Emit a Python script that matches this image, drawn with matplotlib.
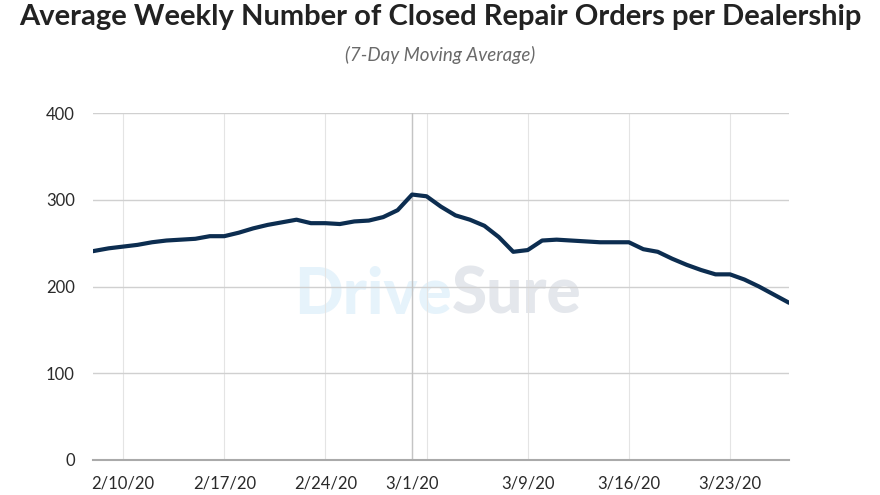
import pandas as pd
import matplotlib
matplotlib.use("Agg")
import matplotlib.pyplot as plt

# daily 7-day moving average of closed repair orders, 2/8/20 - 3/27/20
dates = pd.date_range("2020-02-08", "2020-03-27", freq="D")
orders = [
    241, 244, 246, 248, 251, 253, 254, 255, 258, 258,
    262, 267, 271, 274, 277, 273, 273, 272, 275, 276,
    280, 288, 306, 304, 292, 282, 277, 270, 257, 240,
    242, 253, 254, 253, 252, 251, 251, 251, 243, 240,
    232, 225, 219, 214, 214, 208, 200, 191, 182,
]

label_dates = pd.to_datetime(["2020-02-10", "2020-02-17", "2020-02-24", "2020-03-01",
                              "2020-03-09", "2020-03-16", "2020-03-23"])
label_text = ["2/10/20", "2/17/20", "2/24/20", "3/1/20", "3/9/20", "3/16/20", "3/23/20"]
extra_grid_dates = pd.to_datetime(["2020-03-02"])
marker_date = pd.Timestamp("2020-03-01")
y_ticks = [0, 100, 200, 300, 400]

plt.rcParams["font.family"] = ["Lato", "DejaVu Sans"]

fig = plt.figure(figsize=(8.8, 4.95), dpi=100)
ax = fig.add_axes([93 / 880, 35 / 495, 696 / 880, 347 / 495])

# watermark
ax.text(0.516, 0.475, "Drive", transform=ax.transAxes, ha="right", va="center",
        fontsize=46, fontweight="black", color="#e6f3fb", zorder=0)
ax.text(0.516, 0.475, "Sure", transform=ax.transAxes, ha="left", va="center",
        fontsize=46, fontweight="black", color="#e4e7ec", zorder=0)

ax.plot(dates, orders, color="#0c2d50", linewidth=3.0, solid_joinstyle="round", zorder=3)
ax.axvline(marker_date, color="#c4c4c4", linewidth=1.0, zorder=2)

ax.set_xlim(dates[0] - pd.Timedelta(hours=2), dates[-1] + pd.Timedelta(hours=2))
ax.set_ylim(0, 400)
ax.set_yticks(y_ticks)
ax.set_xticks(label_dates)
ax.set_xticklabels(label_text)
ax.set_xticks(extra_grid_dates, minor=True)

ax.grid(axis="y", color="#d0d0d0", linewidth=1.0, zorder=1)
ax.grid(axis="x", which="both", color="#e4e4e4", linewidth=0.8, zorder=1)
ax.set_axisbelow(True)

for side in ["top", "right", "left"]:
    ax.spines[side].set_visible(False)
ax.spines["bottom"].set_color("#aaaaaa")
ax.spines["bottom"].set_linewidth(1.5)
ax.tick_params(axis="both", which="both", length=0, labelsize=12, colors="#2a2a2a")
ax.tick_params(axis="x", pad=11)
ax.tick_params(axis="y", pad=13)

fig.text(0.5, 1 - 25 / 495, "Average Weekly Number of Closed Repair Orders per Dealership",
         ha="center", va="baseline", fontsize=21, fontweight="bold", color="#222222")
fig.text(0.5, 1 - 55 / 495, "(7-Day Moving Average)", ha="center", va="center",
         fontsize=13.5, style="italic", color="#6a6a6a")

fig.savefig("out.png", dpi=100)
